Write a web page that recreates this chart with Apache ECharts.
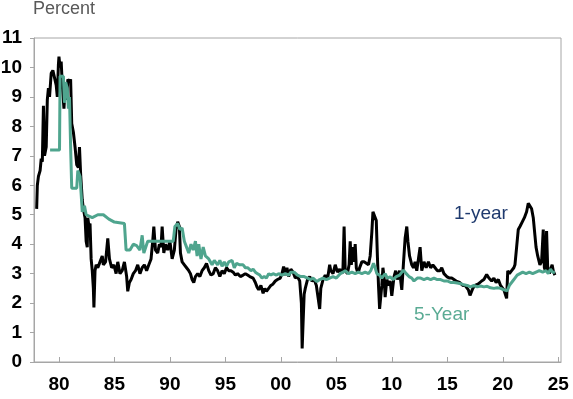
<!DOCTYPE html>
<html>
<head>
<meta charset="utf-8">
<script src="https://cdn.jsdelivr.net/npm/echarts@6/dist/echarts.min.js"></script>
<style>
  html, body { margin: 0; padding: 0; background: #fff; }
  #chart { width: 573px; height: 399px; }
</style>
</head>
<body>
<div id="chart"></div>
<script>
// x ticks (years) and y ticks (percent)
const yearTicks = [1980, 1985, 1990, 1995, 2000, 2005, 2010, 2015, 2020, 2025]
const percentTicks = [0, 1, 2, 3, 4, 5, 6, 7, 8, 9, 10, 11]

// 1-year expectations, [year, percent]
const oneYear = [
  [1977.99, 5.2], [1978.05, 6.0], [1978.15, 6.3], [1978.3, 6.5], [1978.4, 6.9], [1978.5, 6.8],
  [1978.6, 8.7], [1978.7, 7.0], [1978.85, 7.3], [1978.95, 8.9], [1979.05, 9.3], [1979.15, 9.0],
  [1979.3, 9.8], [1979.45, 9.9], [1979.6, 9.85], [1979.75, 9.4], [1979.85, 9.0], [1979.95, 10.1],
  [1980.0, 10.37], [1980.1, 10.0], [1980.2, 10.2], [1980.3, 9.4], [1980.45, 8.6], [1980.55, 9.3],
  [1980.7, 8.9], [1980.8, 9.6], [1980.95, 9.5], [1981.05, 9.6], [1981.15, 8.1], [1981.3, 7.8],
  [1981.45, 7.3], [1981.6, 6.7], [1981.75, 6.6], [1981.85, 7.3], [1981.95, 6.4], [1982.1, 5.5],
  [1982.2, 5.2], [1982.35, 4.9], [1982.45, 4.1], [1982.55, 3.9], [1982.6, 4.9], [1982.7, 4.6],
  [1982.8, 4.7], [1982.9, 3.5], [1983.0, 3.1], [1983.1, 2.5], [1983.15, 1.85], [1983.25, 3.1],
  [1983.35, 3.3], [1983.5, 3.2], [1983.7, 3.4], [1983.9, 3.6], [1984.0, 3.3], [1984.2, 3.4],
  [1984.4, 4.2], [1984.55, 3.5], [1984.75, 3.2], [1984.95, 3.3], [1985.15, 3.0], [1985.3, 3.4],
  [1985.5, 3.0], [1985.7, 3.1], [1985.9, 3.4], [1986.1, 2.9], [1986.2, 2.4], [1986.35, 2.7],
  [1986.5, 2.8], [1986.7, 3.0], [1986.9, 3.1], [1987.1, 3.3], [1987.3, 3.0], [1987.5, 3.2],
  [1987.7, 3.3], [1987.9, 3.1], [1988.1, 3.3], [1988.3, 3.5], [1988.45, 4.1], [1988.55, 4.6],
  [1988.7, 3.8], [1988.9, 3.7], [1989.05, 4.0], [1989.2, 3.9], [1989.3, 4.6], [1989.45, 3.7],
  [1989.6, 4.0], [1989.8, 3.8], [1990.0, 4.1], [1990.2, 3.5], [1990.4, 3.8], [1990.55, 4.5],
  [1990.7, 4.76], [1990.85, 4.6], [1990.95, 3.7], [1991.1, 3.4], [1991.3, 3.3], [1991.5, 3.2],
  [1991.7, 3.1], [1991.85, 3.0], [1992.0, 2.8], [1992.15, 2.7], [1992.3, 2.9], [1992.5, 3.0],
  [1992.7, 2.9], [1992.9, 3.1], [1993.1, 3.2], [1993.3, 3.35], [1993.5, 3.1], [1993.7, 2.95],
  [1993.9, 3.0], [1994.1, 3.2], [1994.3, 3.1], [1994.5, 2.9], [1994.7, 3.1], [1994.9, 3.0],
  [1995.1, 3.2], [1995.3, 3.1], [1995.5, 3.1], [1995.7, 3.05], [1995.9, 2.95], [1996.1, 3.0],
  [1996.35, 2.9], [1996.6, 2.95], [1996.8, 3.0], [1997.0, 2.95], [1997.2, 2.9], [1997.5, 2.85],
  [1997.7, 2.7], [1997.85, 2.55], [1998.0, 2.45], [1998.2, 2.6], [1998.4, 2.33], [1998.55, 2.5],
  [1998.7, 2.4], [1998.9, 2.5], [1999.1, 2.6], [1999.3, 2.65], [1999.5, 2.75], [1999.7, 2.8],
  [1999.95, 2.85], [2000.1, 3.0], [2000.25, 3.24], [2000.4, 2.95], [2000.55, 3.2], [2000.7, 2.9],
  [2000.9, 3.15], [2001.1, 3.05], [2001.3, 2.85], [2001.5, 2.9], [2001.7, 2.75], [2001.85, 2.0],
  [2001.92, 0.46], [2002.0, 1.3], [2002.1, 2.3], [2002.2, 2.5], [2002.4, 2.8], [2002.6, 2.9],
  [2002.8, 2.75], [2003.0, 2.8], [2003.2, 2.6], [2003.35, 2.2], [2003.5, 1.8], [2003.6, 2.5],
  [2003.8, 2.8], [2004.0, 2.95], [2004.2, 2.8], [2004.4, 3.3], [2004.5, 3.1], [2004.7, 3.0],
  [2004.9, 3.3], [2005.1, 3.05], [2005.3, 3.15], [2005.5, 3.0], [2005.6, 3.2], [2005.7, 4.6],
  [2005.8, 3.1], [2006.0, 3.0], [2006.15, 3.3], [2006.25, 4.1], [2006.35, 3.3], [2006.5, 3.9],
  [2006.6, 3.4], [2006.7, 4.0], [2006.8, 3.2], [2006.95, 3.0], [2007.1, 3.2], [2007.3, 3.4],
  [2007.5, 3.4], [2007.7, 3.35], [2007.9, 3.3], [2008.05, 3.6], [2008.2, 4.4], [2008.3, 5.1],
  [2008.45, 5.16], [2008.6, 4.8], [2008.7, 3.6], [2008.8, 2.6], [2008.9, 1.8], [2009.0, 2.2],
  [2009.1, 2.6], [2009.2, 3.2], [2009.3, 2.9], [2009.4, 2.2], [2009.55, 2.8], [2009.7, 2.6],
  [2009.85, 2.75], [2010.0, 2.25], [2010.1, 2.2], [2010.2, 2.9], [2010.35, 3.1], [2010.5, 2.8],
  [2010.7, 3.1], [2010.9, 2.45], [2011.05, 3.35], [2011.2, 4.2], [2011.35, 4.6], [2011.45, 4.1],
  [2011.6, 3.6], [2011.8, 3.3], [2011.95, 3.2], [2012.1, 3.4], [2012.25, 3.1], [2012.4, 3.5],
  [2012.55, 3.9], [2012.7, 3.1], [2012.9, 3.4], [2013.1, 3.2], [2013.3, 3.4], [2013.5, 3.2],
  [2013.7, 3.3], [2013.9, 3.2], [2014.1, 3.1], [2014.35, 3.1], [2014.5, 3.2], [2014.7, 3.0],
  [2014.95, 2.9], [2015.2, 2.85], [2015.4, 2.85], [2015.8, 2.75], [2016.1, 2.7], [2016.4, 2.6],
  [2016.6, 2.6], [2016.9, 2.45], [2017.05, 2.26], [2017.3, 2.5], [2017.5, 2.6], [2017.8, 2.65],
  [2018.1, 2.75], [2018.3, 2.8], [2018.55, 2.97], [2018.75, 2.85], [2019.0, 2.75], [2019.2, 2.85],
  [2019.4, 2.7], [2019.6, 2.8], [2019.8, 2.6], [2020.1, 2.45], [2020.35, 2.16], [2020.45, 3.1],
  [2020.6, 3.0], [2020.8, 3.1], [2021.0, 3.2], [2021.1, 3.3], [2021.25, 3.9], [2021.4, 4.5],
  [2021.55, 4.6], [2021.75, 4.75], [2021.95, 4.9], [2022.15, 5.1], [2022.3, 5.39], [2022.45, 5.35],
  [2022.6, 5.2], [2022.75, 4.9], [2022.9, 4.3], [2023.0, 3.9], [2023.15, 3.6], [2023.35, 3.3],
  [2023.5, 3.4], [2023.65, 4.5], [2023.75, 3.2], [2023.85, 3.1], [2023.95, 4.45], [2024.05, 3.2],
  [2024.2, 3.0], [2024.35, 3.2], [2024.45, 3.3], [2024.55, 3.1], [2024.7, 2.95]
]

// 5-year expectations, [year, percent]
const fiveYear = [
  [1979.2, 7.2], [1980.05, 7.2], [1980.1, 9.7], [1980.4, 9.7], [1980.5, 8.8], [1980.6, 9.5],
  [1980.75, 9.3], [1980.85, 8.6], [1980.95, 9.0], [1981.05, 7.3], [1981.15, 5.9], [1981.6, 5.9],
  [1981.7, 6.5], [1981.9, 6.3], [1982.0, 5.7], [1982.1, 5.1], [1982.3, 5.3], [1982.45, 5.0],
  [1982.6, 4.95], [1983.0, 4.9], [1983.5, 5.0], [1984.0, 5.0], [1984.5, 4.85], [1985.0, 4.75],
  [1985.9, 4.7], [1986.05, 3.8], [1986.4, 3.8], [1986.7, 4.0], [1987.0, 3.95], [1987.3, 3.8],
  [1987.5, 4.3], [1987.65, 3.7], [1987.8, 3.7], [1988.0, 4.1], [1988.5, 4.1], [1989.5, 4.1],
  [1990.3, 4.1], [1990.45, 4.6], [1990.7, 4.7], [1990.9, 4.5], [1991.1, 4.55], [1991.3, 4.1],
  [1991.5, 3.9], [1991.7, 3.7], [1991.9, 4.0], [1992.1, 3.8], [1992.3, 4.1], [1992.45, 3.6],
  [1992.6, 4.0], [1992.8, 3.5], [1993.0, 3.9], [1993.2, 3.6], [1993.5, 3.5], [1993.8, 3.3],
  [1994.0, 3.45], [1994.3, 3.3], [1994.5, 3.45], [1994.7, 3.25], [1994.9, 3.4], [1995.1, 3.25],
  [1995.3, 3.4], [1995.45, 3.35], [1995.6, 3.45], [1995.8, 3.2], [1996.0, 3.35], [1996.3, 3.3],
  [1996.6, 3.3], [1996.8, 3.2], [1997.0, 3.2], [1997.3, 3.1], [1997.5, 3.15], [1997.7, 3.05],
  [1997.9, 3.0], [1998.1, 2.95], [1998.3, 2.85], [1998.5, 2.9], [1998.7, 2.85], [1998.9, 3.0],
  [1999.1, 2.95], [1999.3, 3.0], [1999.6, 2.95], [1999.8, 3.0], [2000.1, 2.95], [2000.4, 3.0],
  [2000.7, 2.95], [2000.9, 3.05], [2001.2, 3.05], [2001.5, 2.95], [2001.8, 2.9], [2002.1, 2.9],
  [2002.4, 2.85], [2002.7, 2.8], [2002.9, 2.85], [2003.25, 2.73], [2003.5, 2.8], [2003.8, 2.85],
  [2004.1, 2.8], [2004.4, 2.85], [2004.7, 2.9], [2005.0, 2.85], [2005.35, 3.0], [2005.6, 3.05],
  [2005.8, 3.1], [2006.1, 3.0], [2006.4, 3.05], [2006.7, 3.0], [2007.0, 3.05], [2007.3, 3.0],
  [2007.6, 3.05], [2007.9, 3.0], [2008.1, 3.1], [2008.35, 3.35], [2008.5, 3.2], [2008.65, 3.0],
  [2008.9, 2.95], [2009.1, 2.85], [2009.4, 3.0], [2009.6, 2.85], [2009.85, 2.89], [2010.1, 2.8],
  [2010.4, 2.9], [2010.7, 2.95], [2011.05, 3.12], [2011.3, 3.0], [2011.55, 2.9], [2011.8, 2.85],
  [2012.0, 2.75], [2012.3, 2.85], [2012.6, 2.85], [2012.9, 2.8], [2013.2, 2.85], [2013.5, 2.8],
  [2013.8, 2.85], [2014.1, 2.8], [2014.4, 2.8], [2014.7, 2.75], [2015.0, 2.75], [2015.3, 2.7],
  [2015.6, 2.7], [2015.9, 2.68], [2016.2, 2.66], [2016.5, 2.62], [2016.8, 2.6], [2017.1, 2.55],
  [2017.4, 2.6], [2017.7, 2.55], [2018.0, 2.58], [2018.3, 2.55], [2018.6, 2.57], [2018.9, 2.52],
  [2019.2, 2.5], [2019.5, 2.52], [2019.8, 2.5], [2020.1, 2.45], [2020.4, 2.42], [2020.6, 2.6],
  [2020.9, 2.75], [2021.1, 2.85], [2021.3, 2.95], [2021.55, 3.0], [2021.8, 3.05], [2022.1, 3.0],
  [2022.4, 3.05], [2022.7, 3.0], [2023.0, 3.05], [2023.3, 3.1], [2023.6, 3.05], [2023.9, 3.1],
  [2024.1, 3.0], [2024.3, 3.15], [2024.5, 3.05], [2024.7, 3.05]
]

const chart = echarts.init(document.getElementById('chart'))

const fontFamily = 'Liberation Sans, Arial, sans-serif'
const axisFont = { color: '#000', fontSize: 19, fontWeight: 'bold', fontFamily }

chart.setOption({
  animation: false,
  grid: {
    left: 34, right: 12, top: 38, bottom: 37,
    outerBoundsMode: 'none',
    show: true, borderColor: '#a6a6a6', borderWidth: 1,
  },
  xAxis: {
    type: 'value',
    min: 1977.75,
    max: 2025.25,
    splitLine: { show: false },
    axisLine: { lineStyle: { color: '#a6a6a6' } },
    axisTick: { customValues: yearTicks, inside: true, length: 5, lineStyle: { color: '#a6a6a6' } },
    axisLabel: {
      ...axisFont,
      margin: 13,
      customValues: yearTicks,
      formatter: (v) => String(Math.round(v) % 100).padStart(2, '0'),
    },
  },
  yAxis: {
    type: 'value',
    min: 0,
    max: 11,
    interval: 1,
    splitLine: { show: false },
    axisLine: { show: true, lineStyle: { color: '#a6a6a6' } },
    axisTick: { show: true, length: 4, lineStyle: { color: '#a6a6a6' } },
    axisLabel: { ...axisFont, margin: 12, customValues: percentTicks },
  },
  graphic: [
    { type: 'text', left: 33, top: 0, style: { text: 'Percent', fontSize: 18, fill: '#595959', fontFamily } },
    { type: 'text', left: 454, top: 204, style: { text: '1-year', fontSize: 19, fill: '#1f3a6e', fontFamily } },
    { type: 'text', left: 414, top: 305, style: { text: '5-Year', fontSize: 19, fill: '#5aab94', fontFamily } },
  ],
  series: [
    {
      name: '1-year',
      type: 'line',
      data: oneYear,
      showSymbol: false,
      lineStyle: { color: '#000', width: 3 },
      z: 2,
    },
    {
      name: '5-Year',
      type: 'line',
      data: fiveYear,
      showSymbol: false,
      lineStyle: { color: '#4fa58e', width: 3 },
      z: 3,
    },
  ],
})
</script>
</body>
</html>
